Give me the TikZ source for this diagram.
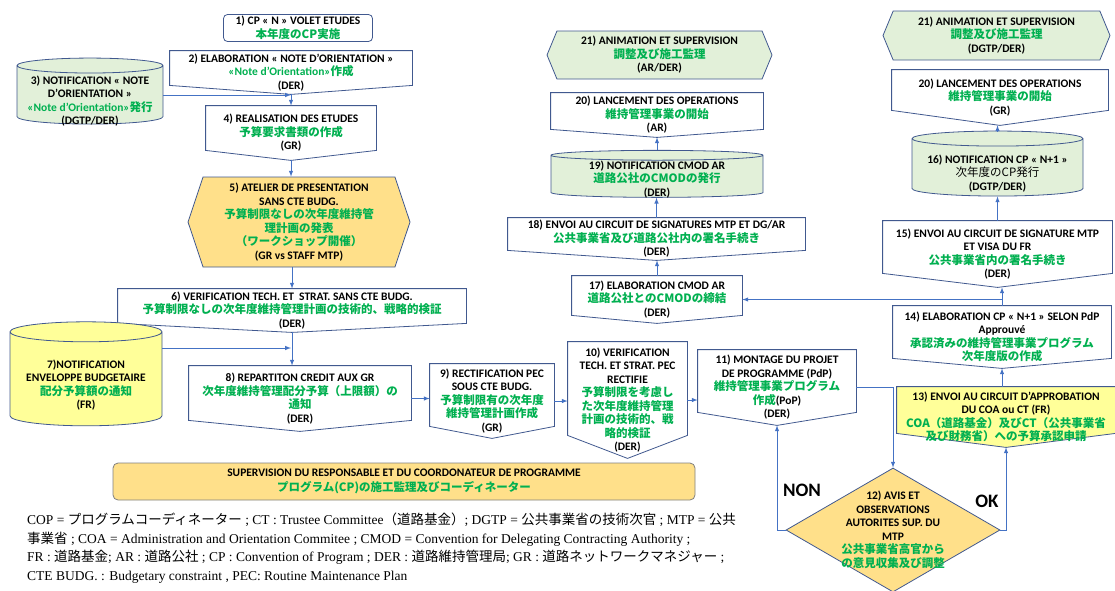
\documentclass[tikz,border=0pt]{standalone}
\usepackage{fontspec}
\setmainfont{Carlito}
\newfontfamily\jpfont{Noto Sans CJK JP}
\newfontfamily\notefont{Liberation Serif}
\usepackage{xcolor}
\usetikzlibrary{arrows}
\usetikzlibrary{shapes.geometric, shapes.symbols}

\definecolor{jgreen}{HTML}{00B050}
\definecolor{edgeblue}{HTML}{41598F}
\definecolor{linkblue}{HTML}{4472C4}
\definecolor{palegreen}{HTML}{E2F0D9}
\definecolor{gold}{HTML}{FFE08A}
\definecolor{lemon}{HTML}{FFFF99}

\newcommand{\jg}[1]{{\jpfont\color{jgreen}#1}}
\newcommand{\jb}[1]{{\jpfont\mdseries #1}}

% off-page box: a rectangle whose bottom side is a shallow V
\makeatletter
\pgfkeys{/pgf/offpage depth/.initial=8pt}
\pgfdeclareshape{offpage}{%
  \inheritsavedanchors[from=rectangle]%
  \inheritanchorborder[from=rectangle]%
  \inheritanchor[from=rectangle]{center}%
  \inheritanchor[from=rectangle]{north}%
  \inheritanchor[from=rectangle]{south}%
  \inheritanchor[from=rectangle]{east}%
  \inheritanchor[from=rectangle]{west}%
  \inheritanchor[from=rectangle]{north east}%
  \inheritanchor[from=rectangle]{north west}%
  \inheritanchor[from=rectangle]{south east}%
  \inheritanchor[from=rectangle]{south west}%
  \backgroundpath{%
    \southwest \edef\op@xa{\the\pgf@x}\edef\op@ya{\the\pgf@y}%
    \northeast \edef\op@xb{\the\pgf@x}\edef\op@yb{\the\pgf@y}%
    \pgfmathsetlengthmacro\op@xc{(\op@xa+\op@xb)/2}%
    \pgfmathsetlengthmacro\op@yc{\op@ya+\pgfkeysvalueof{/pgf/offpage depth}}%
    \pgfpathmoveto{\pgfqpoint{\op@xa}{\op@yb}}%
    \pgfpathlineto{\pgfqpoint{\op@xb}{\op@yb}}%
    \pgfpathlineto{\pgfqpoint{\op@xb}{\op@yc}}%
    \pgfpathlineto{\pgfqpoint{\op@xc}{\op@ya}}%
    \pgfpathlineto{\pgfqpoint{\op@xa}{\op@yc}}%
    \pgfpathclose
  }%
}
\makeatother

\tikzset{
  boxfont/.style={font=\bfseries\fontsize{11.5}{13.5}\selectfont},
  box/.style={draw=edgeblue, line width=0.8pt, fill=white, inner sep=0pt, align=center, boxfont},
  pagebox/.style={box, shape=offpage},
  tube/.style={box, shape=cylinder, shape border rotate=90, aspect=#1, fill=palegreen},
  tubetext/.style={boxfont, align=center, inner sep=0pt, yshift=-6pt},
  hexbox/.style={box, shape=signal, signal to=west and east, signal pointer angle=#1, fill=palegreen},
  decision/.style={box, shape=diamond, fill=gold, inner sep=-20pt},
  link/.style={-latex, draw=linkblue, line width=1pt},
}

\begin{document}
\begin{tikzpicture}[x=1pt,y=-1pt]
\useasboundingbox (0,0) rectangle (1115,590);

% left column: studies and budget
\node[box, rounded corners=4pt, minimum width=149pt, minimum height=27pt] (b1) at (298,28)
  {1) CP « N » VOLET ETUDES\\ \jg{本年度のCP実施}};
\node[pagebox, offpage depth=9pt, minimum width=242pt, minimum height=43pt] (b2) at (291,72.5)
  {2) ELABORATION « NOTE D’ORIENTATION »\\ {\color{jgreen}«Note d’Orientation»}\jg{作成}\\ (DER)};
\node[tube=0.115, text width=130pt, minimum width=146pt, minimum height=66pt,
  label={[tubetext]center:{3) NOTIFICATION « NOTE\\ D’ORIENTATION »\\ {\color{jgreen}«Note d’Orientation»}\jg{発行}\\ (DGTP/DER)}}] (b3) at (90,95) {};
\node[pagebox, offpage depth=10pt, minimum width=170pt, minimum height=54pt] (b4) at (291,133)
  {4) REALISATION DES ETUDES\\ \jg{予算要求書類の作成}\\ (GR)};
\node[hexbox=143, fill=gold, minimum width=222pt, minimum height=90pt] (b5) at (299,222)
  {5) ATELIER DE PRESENTATION\\ SANS CTE BUDG.\\ \jg{予算制限なしの次年度維持管}\\ \jg{理計画の発表}\\ \jg{（ワークショップ開催）}\\ (GR vs STAFF MTP)};
\node[pagebox, offpage depth=9pt, minimum width=348pt, minimum height=43pt] (b6) at (292,310.5)
  {6) VERIFICATION TECH. ET \ STRAT. SANS CTE BUDG.\\ \jg{予算制限なしの次年度維持管理計画の技術的、戦略的検証}\\ (DER)};
\node[tube=0.147, fill=lemon, text width=136pt, minimum width=152pt, minimum height=104pt,
  label={[tubetext]center:{7)NOTIFICATION\\ ENVELOPPE BUDGETAIRE\\ \jg{配分予算額の通知}\\ (FR)}}] (b7) at (86,379) {};
\node[pagebox, offpage depth=11pt, minimum width=222pt, minimum height=65pt] (b8) at (300,398.5)
  {8) REPARTITON CREDIT AUX GR\\ \jg{次年度維持管理配分予算（上限額）の}\\ \jg{通知}\\ (DER)};

% bottom row: programme drafting and approval
\node[pagebox, offpage depth=12pt, minimum width=124pt, minimum height=74pt] (b9) at (492,401)
  {9) RECTIFICATION PEC\\ SOUS CTE BUDG.\\ \jg{予算制限有の次年度}\\ \jg{維持管理計画作成}\\ (GR)};
\node[pagebox, offpage depth=23pt, minimum width=119pt, minimum height=116pt] (b10) at (627.5,400)
  {10) VERIFICATION\\ TECH. ET STRAT. PEC\\ RECTIFIE\\ \jg{予算制限を考慮し}\\ \jg{た次年度維持管理}\\ \jg{計画の技術的、戦}\\ \jg{略的検証}\\ (DER)};
\node[pagebox, offpage depth=13pt, minimum width=158pt, minimum height=75pt] (b11) at (777,387.5)
  {11) MONTAGE DU PROJET\\ DE PROGRAMME (PdP)\\ \jg{維持管理事業プログラム}\\ \jg{作成}(PoP)\\ (DER)};
\node[decision, minimum width=214pt, minimum height=124pt] (b12) at (893,530)
  {12) AVIS ET\\ OBSERVATIONS\\ AUTORITES SUP. DU\\ MTP\\ \jg{公共事業省高官から}\\ \jg{の意見収集及び調整}};
\node[pagebox, offpage depth=14pt, fill=lemon, minimum width=218pt, minimum height=60pt] (b13) at (1006,417)
  {13) ENVOI AU CIRCUIT D’APPROBATION\\ DU COA ou CT (FR)\\ \jg{COA（道路基金）及びCT（公共事業省}\\ \jg{及び財務省）への予算承認申請}};

% right column: CP N+1
\node[pagebox, offpage depth=10pt, minimum width=218pt, minimum height=62pt] (b14) at (1002,337)
  {14) ELABORATION CP « N+1 » SELON PdP\\ Approuvé\\ \jg{承認済みの維持管理事業プログラム}\\ \jg{次年度版の作成}};
\node[pagebox, offpage depth=14pt, minimum width=229pt, minimum height=66pt] (b15) at (997.5,254)
  {15) ENVOI AU CIRCUIT DE SIGNATURE MTP\\ ET VISA DU FR\\ \jg{公共事業省内の署名手続き}\\ (DER)};
\node[tube=0.097, text width=155pt, minimum width=171pt, minimum height=65pt,
  label={[tubetext]center:{16) NOTIFICATION CP « N+1 »\\ \jb{次年度のCP発行}\\ (DGTP/DER)}}] (b16) at (997.5,167.5) {};
\node[pagebox, offpage depth=15pt, minimum width=216pt, minimum height=55pt] (b20r) at (1000,97.5)
  {20) LANCEMENT DES OPERATIONS\\ \jg{維持管理事業の開始}\\ (GR)};
\node[hexbox=135, minimum width=227pt, minimum height=49pt] (b21r) at (996.5,35.5)
  {21) ANIMATION ET SUPERVISION\\ \jg{調整及び施工監理}\\ (DGTP/DER)};

% middle column: CMOD AR
\node[pagebox, offpage depth=8pt, minimum width=170pt, minimum height=47pt] (b17) at (657,299.5)
  {17) ELABORATION CMOD AR\\ \jg{道路公社とのCMODの締結}\\ (DER)};
\node[pagebox, offpage depth=10pt, minimum width=297pt, minimum height=42pt] (b18) at (656.5,239)
  {18) ENVOI AU CIRCUIT DE SIGNATURES MTP ET DG/AR\\ \jg{公共事業省及び道路公社内の署名手続き}\\ (DER)};
\node[tube=0.05, text width=196pt, minimum width=212pt, minimum height=47pt,
  label={[tubetext, yshift=3pt]center:{19) NOTIFICATION CMOD AR\\ \jg{道路公社のCMODの発行}\\ (DER)}}] (b19) at (657,176.5) {};
\node[pagebox, offpage depth=8pt, minimum width=212pt, minimum height=44pt] (b20m) at (657,115)
  {20) LANCEMENT DES OPERATIONS\\ \jg{維持管理事業の開始}\\ (AR)};
\node[hexbox=135, minimum width=225pt, minimum height=48pt] (b21m) at (659.5,55)
  {21) ANIMATION ET SUPERVISION\\ \jg{調整及び施工監理}\\ (AR/DER)};

% supervision banner and notes
\node[box, rounded corners=5pt, draw=gray, fill=gold, minimum width=582pt, minimum height=37pt,
  font=\bfseries\fontsize{11.5}{15}\selectfont] (sup) at (404,481.5)
  {SUPERVISION DU RESPONSABLE ET DU COORDONATEUR DE PROGRAMME\\ \jg{プログラム(CP)の施工監理及びコーディネーター}};
\node[anchor=north west, inner sep=0pt, align=left, font=\notefont\fontsize{13.5}{18.5}\selectfont] (notes) at (27,513)
  {COP = \jb{プログラムコーディネーター} ; CT :  Trustee Committee\jb{（道路基金）}; DGTP = \jb{公共事業省の技術次官} ; MTP = \jb{公共}\\
   \jb{事業省} ;  COA = Administration and Orientation Commitee ; CMOD = Convention for Delegating Contracting Authority ;\\
   FR : \jb{道路基金}; AR : \jb{道路公社} ; CP : Convention of Program ; DER : \jb{道路維持管理局}; GR : \jb{道路ネットワークマネジャー} ;\\
   CTE BUDG. : Budgetary constraint , PEC: Routine Maintenance Plan};

\node[font=\bfseries\fontsize{19}{19}\selectfont] (non) at (802,490) {NON};
\node[font=\bfseries\fontsize{19}{19}\selectfont] (ok) at (987,501) {OK};

% connectors
\coordinate (j7) at (291,348);
\draw[link] (b2.south) -- (b4.north);
\draw[link] (b3.east) -- (b3.east -| b4.north);
\draw[link] (b4.south) -- (b4.south |- b5.north);
\draw[link] (b6.north |- b5.south) -- (b6.north);
\draw[link] (b6.south) -- (b6.south |- b8.north);
\draw[link] (b7.east |- j7) -- (j7);
\draw[link] (b8.east) -- (b8.east -| b9.west);
\draw[link] (b9.east) -- (b9.east -| b10.west);
\draw[link] (b10.east) -- (b10.east -| b11.west);
\draw[link] (b11.east) -| (b12.north);
\draw[link] (b12.west) -| (b11.south);
\draw[link] (b12.east) -| (b13.south);
\draw[link] (b14.south |- b13.north) -- (b14.south);
\draw[link] (b14.north) -- (b14.north |- b15.south);
\draw[link] (b14.north) |- (b17.east);
\draw[link] (b15.north) -- (b15.north |- b16.south);
\draw[link] (b16.north) -- (b16.north |- b20r.south);
\draw[link] (b17.north) -- (b17.north |- b18.south);
\draw[link] (b18.north) -- (b18.north |- b19.south);
\draw[link] (b19.north) -- (b19.north |- b20m.south);
\end{tikzpicture}
\end{document}
